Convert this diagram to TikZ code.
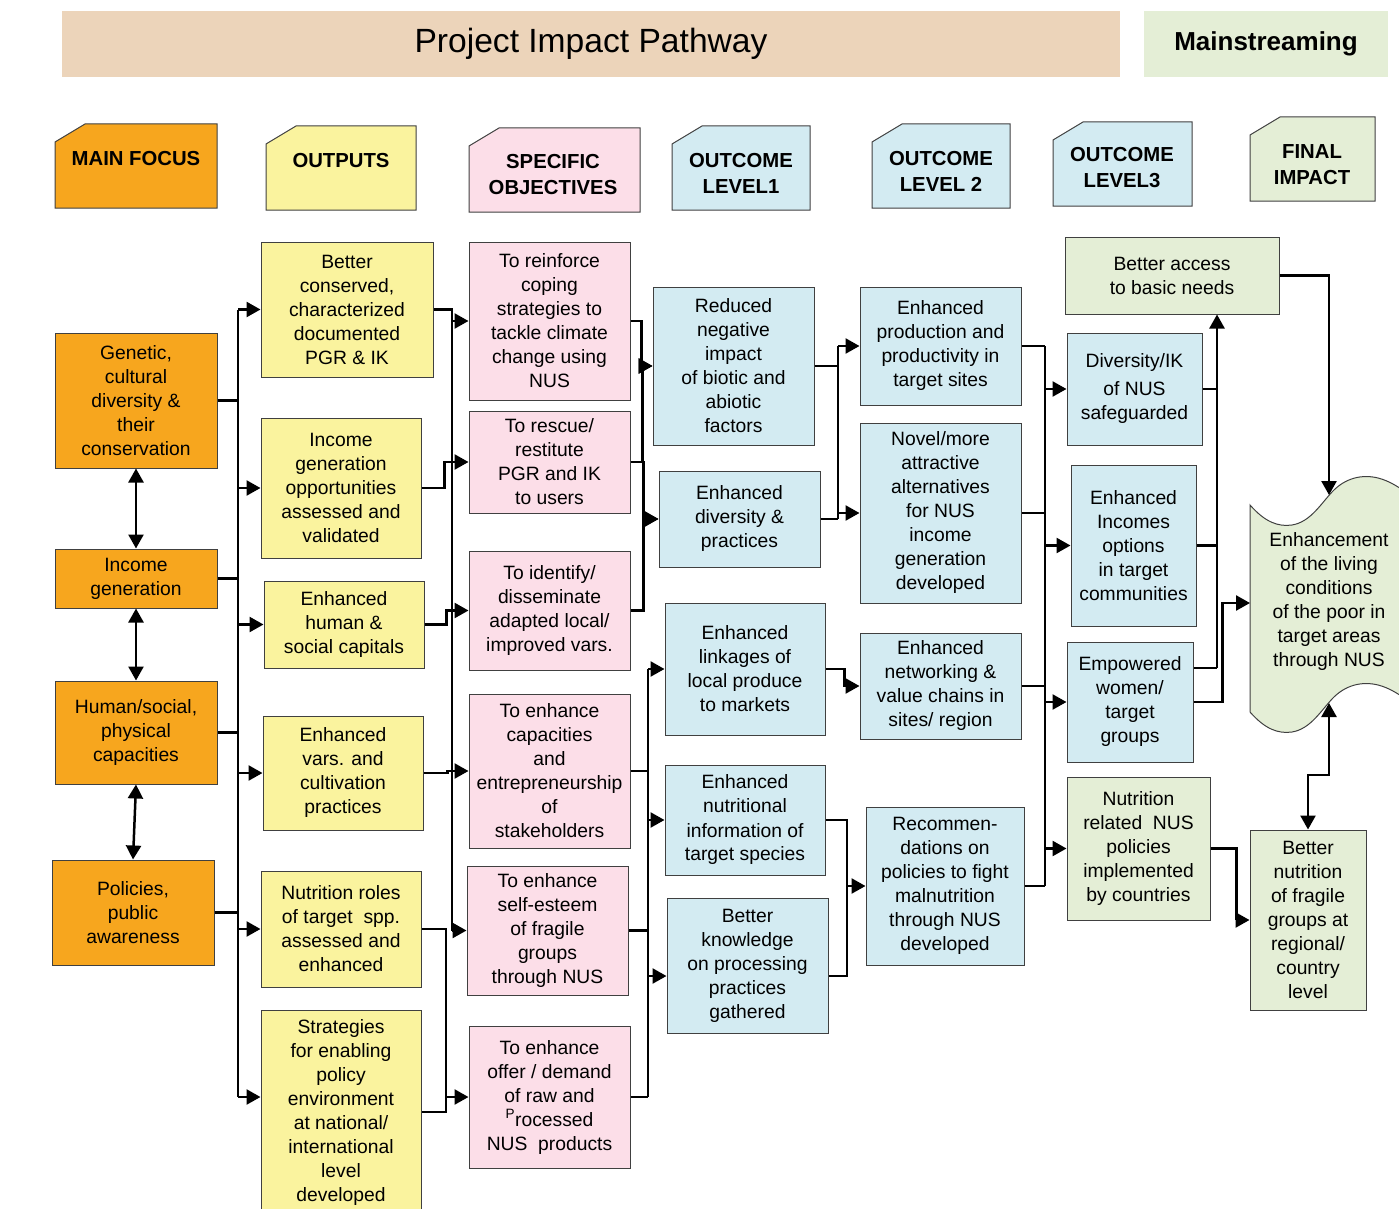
\documentclass[tikz,border=0pt]{standalone}
\usepackage{fontspec}
\setmainfont{Liberation Sans}
\usepackage{xcolor}
\usepackage{tikz}
\usetikzlibrary{arrows.meta, positioning}

\definecolor{focusorange}{RGB}{247,166,30}
\definecolor{outputyellow}{RGB}{250,243,158}
\definecolor{objpink}{RGB}{252,222,232}
\definecolor{outblue}{RGB}{211,235,242}
\definecolor{impactgreen}{RGB}{228,238,214}
\definecolor{bannertan}{RGB}{236,212,186}

\begin{document}
\begin{tikzpicture}[
        x=1pt, y=-1pt,
        every node/.style={font=\fontsize{19.3}{24}\selectfont},
        box/.style={draw=black!75, line width=1pt, align=center, inner sep=2pt},
        focus/.style={box, fill=focusorange},
        output/.style={box, fill=outputyellow},
        objective/.style={box, fill=objpink},
        outcome/.style={box, fill=outblue},
        impact/.style={box, fill=impactgreen},
        tabline/.style={draw=black!75, line width=1pt},
        tab/.style={align=center, font=\fontsize{20.3}{26}\selectfont\bfseries},
        wave/.style={draw=black!75, line width=1pt, fill=impactgreen},
        link/.style={line width=2.5pt},
        conn/.style={link, -{Triangle[length=14pt, width=15pt]}},
        twoway/.style={link, {Triangle[length=14pt, width=15pt]}-{Triangle[length=14pt, width=15pt]}}
    ]
        \useasboundingbox (0,0) rectangle (1399,1209);

        % Header
        \node[fill=bannertan, minimum width=1058pt, minimum height=66pt, font=\fontsize{33.6}{40}\selectfont] (title) at (591,44) {Project Impact Pathway};
        \node[fill=impactgreen, minimum width=244pt, minimum height=66pt, font=\fontsize{26}{31}\selectfont\bfseries] (mainstream) at (1266,44) {Mainstreaming};

        % Column tabs
        \foreach \x/\y/\w/\c in {55/124/162/focusorange, 266/126/150/outputyellow, 469/128/171/objpink,
                672/126/138/outblue, 872/124/138/outblue, 1053/122/139/outblue, 1250/117/125/impactgreen}
            \filldraw[tabline, fill=\c] (\x,\y+84) -- (\x,\y+18) -- (\x+30,\y) -- (\x+\w,\y) -- (\x+\w,\y+84) -- cycle;
        \node[tab] (hfocus) at (136,159) {MAIN FOCUS};
        \node[tab] (houtput) at (341,161) {OUTPUTS};
        \node[tab] (hobjective) at (553,175) {SPECIFIC\\OBJECTIVES};
        \node[tab] (hlevel1) at (741,173) {OUTCOME\\LEVEL1};
        \node[tab] (hlevel2) at (941,171) {OUTCOME\\LEVEL 2};
        \node[tab] (hlevel3) at (1122,168) {OUTCOME\\LEVEL3};
        \node[tab] (hfinal) at (1312,165) {FINAL\\IMPACT};

        % Main focus
        \node[focus, minimum width=162pt, minimum height=135pt] (m1) at (136,400.5) {Genetic,\\cultural\\diversity \&\\their\\conservation};
        \node[focus, minimum width=162pt, minimum height=59pt] (m2) at (136,578.5) {Income\\generation};
        \node[focus, minimum width=162pt, minimum height=103pt] (m3) at (136,732.5) {Human/social,\\physical\\capacities};
        \node[focus, minimum width=162pt, minimum height=105pt] (m4) at (133,912.5) {Policies,\\public\\awareness};

        % Outputs
        \node[output, minimum width=172pt, minimum height=135pt] (o1) at (347,309.5) {Better\\conserved,\\characterized\\documented\\PGR \& IK};
        \node[output, minimum width=160pt, minimum height=140pt] (o2) at (341,488) {Income\\generation\\opportunities\\assessed and\\validated};
        \node[output, minimum width=160pt, minimum height=87pt] (o3) at (344,624.5) {Enhanced\\human \&\\social capitals};
        \node[output, minimum width=160pt, minimum height=114pt] (o4) at (343,773) {Enhanced\\vars. and\\cultivation\\practices};
        \node[output, minimum width=160pt, minimum height=116pt] (o5) at (341,929) {Nutrition roles\\of target\ \ spp.\\assessed and\\enhanced};
        \node[output, minimum width=160pt, minimum height=204pt] (o6) at (341,1112) {Strategies\\for enabling\\policy\\environment\\at national/\\international\\level\\developed};

        % Specific objectives
        \node[objective, minimum width=161pt, minimum height=158pt] (s1) at (549.5,321) {To reinforce\\coping\\strategies to\\tackle climate\\change using\\NUS};
        \node[objective, minimum width=161pt, minimum height=102pt] (s2) at (549.5,462) {To rescue/\\restitute\\PGR and IK\\to users};
        \node[objective, minimum width=161pt, minimum height=119pt] (s3) at (549.5,610.5) {To identify/\\disseminate\\adapted local/\\improved vars.};
        \node[objective, minimum width=161pt, minimum height=154pt] (s4) at (549.5,771) {To enhance\\capacities\\and\\entrepreneurship\\of\\stakeholders};
        \node[objective, minimum width=161pt, minimum height=129pt] (s5) at (547.5,930.5) {To enhance\\self-esteem\\of fragile\\groups\\through NUS};
        \node[objective, minimum width=161pt, minimum height=142pt] (s6) at (549.5,1097) {To enhance\\offer / demand\\of raw and\\\textsuperscript{P}rocessed\\NUS\ \ products};

        % Outcome level 1
        \node[outcome, minimum width=161pt, minimum height=158pt] (l1a) at (733.5,366) {Reduced\\negative\\impact\\of biotic and\\abiotic\\factors};
        \node[outcome, minimum width=161pt, minimum height=96pt] (l1b) at (739.5,519) {Enhanced\\diversity \&\\practices};
        \node[outcome, minimum width=160pt, minimum height=132pt] (l1c) at (745,669) {Enhanced\\linkages of\\local produce\\to markets};
        \node[outcome, minimum width=160pt, minimum height=110pt] (l1d) at (745,820) {Enhanced\\nutritional\\information of\\target species};
        \node[outcome, minimum width=161pt, minimum height=135pt] (l1e) at (747.5,965.5) {Better\\knowledge\\on processing\\practices\\gathered};

        % Outcome level 2
        \node[outcome, minimum width=161pt, minimum height=118pt] (l2a) at (940.5,346) {Enhanced\\production and\\productivity in\\target sites};
        \node[outcome, minimum width=161pt, minimum height=180pt] (l2b) at (940.5,513) {Novel/more\\attractive\\alternatives\\for NUS\\income\\generation\\developed};
        \node[outcome, minimum width=161pt, minimum height=106pt] (l2c) at (940.5,686) {Enhanced\\networking \&\\value chains in\\sites/ region};
        \node[outcome, minimum width=158pt, minimum height=158pt] (l2d) at (945,886) {Recommen-\\dations on\\policies to fight\\malnutrition\\through NUS\\developed};

        % Outcome level 3
        \node[impact, minimum width=214pt, minimum height=77pt] (g1) at (1172,275.5) {Better access\\to basic needs};
        \node[outcome, minimum width=135pt, minimum height=112pt] (l3a) at (1134.5,389) {Diversity/IK\\[4pt]of NUS\\safeguarded};
        \node[outcome, minimum width=125pt, minimum height=161pt] (l3b) at (1133.5,545.5) {Enhanced\\Incomes\\options\\in target\\communities};
        \node[outcome, minimum width=126pt, minimum height=120pt] (l3c) at (1130,702) {Empowered\\women/\\target\\groups};
        \node[impact, minimum width=143pt, minimum height=143pt] (g2) at (1138.5,848.5) {Nutrition\\related\ \ NUS\\policies\\implemented\\by countries};

        % Final impact
        \draw[wave] (1250,505) .. controls (1265,522) and (1278,527) .. (1292,525)
            .. controls (1310,522) and (1320,505) .. (1332,492)
            .. controls (1345,478) and (1362,474) .. (1378,478)
            .. controls (1390,481) and (1400,488) .. (1410,495) -- (1410,702)
            .. controls (1400,695) and (1390,688) .. (1378,685)
            .. controls (1362,681) and (1345,685) .. (1332,699)
            .. controls (1320,712) and (1310,729) .. (1292,732)
            .. controls (1278,734) and (1265,729) .. (1250,712) -- cycle;
        \node[align=center] (w) at (1329,602) {Enhancement\\of the living\\conditions\\of the poor in\\target areas\\through NUS};
        \node[impact, minimum width=116pt, minimum height=180pt] (f2) at (1308,920) {Better\\nutrition\\of fragile\\groups at\\regional/\\country\\level};
        \coordinate (wtop) at (1329,495);
        \coordinate (wleft) at (1250,603);
        \coordinate (wbot) at (1329,703);

        % Edges
        \draw[twoway] (m1.south) -- (m2.north);
        \draw[twoway] (m2.south) -- (m3.north);
        \draw[twoway] (m3.south) -- (m4.north);

        \coordinate (tA) at (238,309.5);
        \coordinate (tB) at (238,1097);
        \draw[link] (tA) -- (tB);
        \foreach \m in {m1,m2,m3,m4} \draw[link] (\m.east) -- (\m.east -| tA);
        \foreach \o in {o1,o2,o3,o4,o5} \draw[conn] (tA |- \o.west) -- (\o.west);
        \draw[conn] (tB) -- (tB -| o6.west);

        \coordinate (uA) at (452,309.5);
        \draw[link] (o1.east) -- (uA) -- (uA |- s5.west);
        \draw[link] (o2.east) -- ++(23,0) |- (uA |- s2.west);
        \draw[link] (o3.east) -- ++(22,0) |- (uA |- s3.west);
        \draw[link] (o4.east) -- ++(24,0) |- (uA |- s4.west);
        \foreach \s in {s1,s2,s3,s4,s5} \draw[conn] (uA |- \s.west) -- (\s.west);
        \coordinate (vA) at (446,929);
        \draw[link] (o5.east) -- (vA) |- (o6.east);
        \draw[conn] (vA |- s6.west) -- (s6.west);

        \draw[conn] (s1.east) -- ++(11,0) |- (l1a.west);
        \draw[conn] (s2.east) -- ++(12,0) |- (l1a.west);
        \draw[conn] (s2.east) -- ++(13,0) |- (l1b.west);
        \draw[conn] (s3.east) -- ++(13,0) |- (l1b.west);

        \coordinate (wT) at (648,669);
        \coordinate (l1eIn) at ([yshift=-10.5pt]l1e.west);
        \coordinate (l1eOut) at ([yshift=-10.5pt]l1e.east);
        \draw[link] (wT) -- (wT |- s6.east);
        \foreach \s in {s4,s5,s6} \draw[link] (\s.east) -- (\s.east -| wT);
        \draw[conn] (wT) -- (l1c.west);
        \draw[conn] (wT |- l1d.west) -- (l1d.west);
        \draw[conn] (wT |- l1eIn) -- (l1eIn);

        \coordinate (xT) at (838,346);
        \draw[link] (l1a.east) -- (l1a.east -| xT);
        \draw[link] (l1b.east) -- (l1b.east -| xT);
        \draw[link] (xT) -- (xT |- l1b.east);
        \draw[conn] (xT) -- (l2a.west);
        \draw[conn] (xT |- l2b.west) -- (l2b.west);
        \draw[conn] (l1c.east) -- ++(19,0) |- (l2c.west);
        \coordinate (yT) at (847,820);
        \draw[link] (l1d.east) -- (yT) |- (l1eOut);
        \draw[conn] (yT |- l2d.west) -- (l2d.west);

        \coordinate (zT) at (1045,346);
        \draw[link] (zT) -- (zT |- l2d.east);
        \foreach \l in {l2a,l2b,l2c,l2d} \draw[link] (\l.east) -- (\l.east -| zT);
        \foreach \l in {l3a,l3b,l3c,g2} \draw[conn] (zT |- \l.west) -- (\l.west);

        \coordinate (aB) at (1217,668);
        \draw[conn] (aB) -- (aB |- g1.south);
        \draw[link] (l3a.east) -- (l3a.east -| aB);
        \draw[link] (l3b.east) -- (l3b.east -| aB);
        \draw[link] ([yshift=34pt]l3c.east) -- (aB);
        \draw[conn] (g1.east) -| (wtop);
        \draw[conn] (l3c.east) -- ++(29,0) |- (wleft);
        \draw[conn] (g2.east) -- ++(26,0) |- (f2.west);
        \draw[twoway] (wbot) -- ++(0,72) -| (f2.north);

    \end{tikzpicture}
\end{document}
